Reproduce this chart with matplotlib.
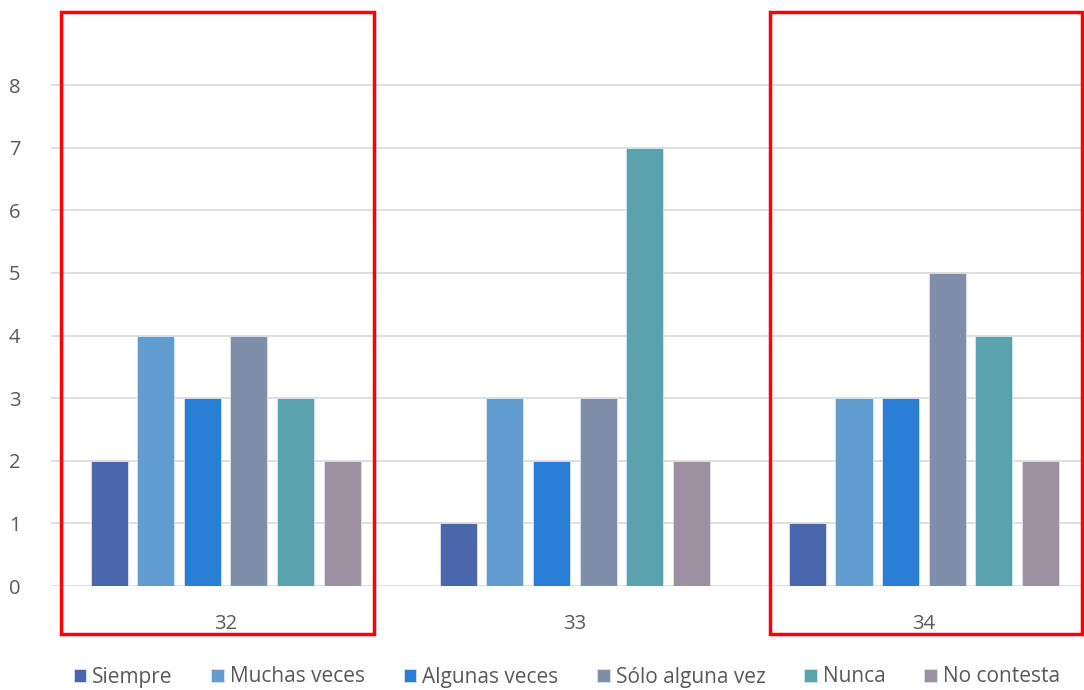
import matplotlib
matplotlib.use("Agg")
import matplotlib.pyplot as plt
import numpy as np
from matplotlib.patches import Rectangle

groups = ["32", "33", "34"]
series = ["Siempre", "Muchas veces", "Algunas veces", "Sólo alguna vez", "Nunca", "No contesta"]
values = {
    "Siempre": [2, 1, 1],
    "Muchas veces": [4, 3, 3],
    "Algunas veces": [3, 2, 3],
    "Sólo alguna vez": [4, 3, 5],
    "Nunca": [3, 7, 4],
    "No contesta": [2, 2, 2],
}
colors = ["#4A66AC", "#629DD1", "#297FD5", "#7F8FA9", "#5AA2AE", "#9D90A0"]
yticks = [0, 1, 2, 3, 4, 5, 6, 7, 8]

plt.rcParams['font.family'] = ['Open Sans', 'DejaVu Sans']
W, H = 1084, 690
fig = plt.figure(figsize=(W / 100, H / 100), dpi=100)
left, right = 51, 1098.5
bottom_px, top_px = 586, 22.4
ax = fig.add_axes([left / W, 1 - bottom_px / H, (right - left) / W, (bottom_px - top_px) / H])
ax.set_xlim(-0.5, 2.5)
ax.set_ylim(0, 9)

x = np.arange(len(groups))
step = 0.1335
bw = 0.106
for i, (s, c) in enumerate(zip(series, colors)):
    offs = (i - 2.5) * step
    ax.bar(x + offs, values[s], width=bw, color=c, edgecolor="#dfe3ea", linewidth=0.6, label=s, zorder=3)

ax.set_yticks(yticks)
ax.set_yticklabels([str(t) for t in yticks])
ax.set_xticks(x)
ax.set_xticklabels(groups)
for t in yticks:
    ax.axhline(t, color="#d9d9d9", linewidth=1.2, zorder=1)
ax.tick_params(axis="both", length=0, labelsize=14.5, colors="#595959")
ax.tick_params(axis="x", pad=20)
ax.tick_params(axis="y", pad=22)
for sp in ax.spines.values():
    sp.set_visible(False)

for (x0, x1) in [(61, 374), (770, 1082)]:
    r = Rectangle((x0 / W, 1 - 634 / H), (x1 - x0) / W, (634 - 12) / H,
                  transform=fig.transFigure, fill=False, edgecolor="#FF0000",
                  linewidth=2.5, zorder=10)
    fig.patches.append(r)

leg = fig.legend(*ax.get_legend_handles_labels(), loc="center", ncol=6,
                 bbox_to_anchor=(567 / W, 1 - 677 / H), frameon=False,
                 fontsize=15, handlelength=0.6, handleheight=0.6,
                 handletextpad=0.3, columnspacing=1.85)
for t in leg.get_texts():
    t.set_color("#595959")

fig.savefig("out.png", dpi=100)
